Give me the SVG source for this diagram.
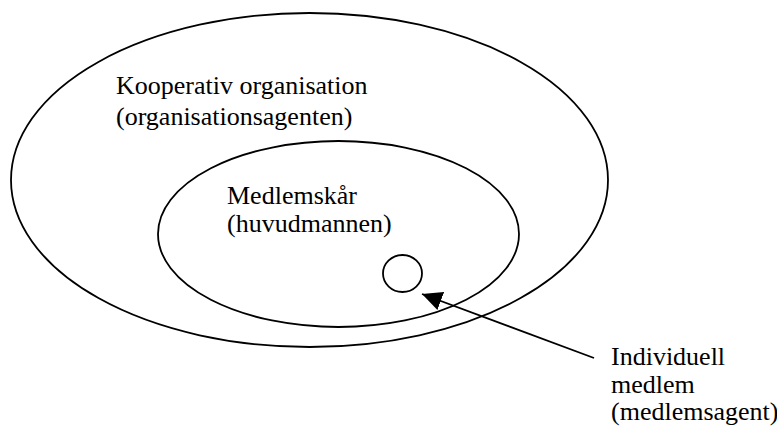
<svg xmlns="http://www.w3.org/2000/svg" width="777" height="427" viewBox="0 0 777 427">
<defs>
<style>
.shape{fill:none;stroke:#000;stroke-width:1.8}
.lbl{font-family:"Liberation Serif","Times New Roman",serif;font-size:26px;fill:#000}
</style>
<marker id="ah" viewBox="0 0 20 19" refX="20" refY="9.5" markerWidth="20" markerHeight="19" markerUnits="userSpaceOnUse" orient="auto">
<path d="M0,0 L20,9.5 L0,19 z" fill="#000"/>
</marker>
</defs>
<rect width="777" height="427" fill="#fff"/>
<g id="kooperativ">
<ellipse class="shape" cx="309.5" cy="180" rx="298.5" ry="167"/>
<text class="lbl" x="116" y="94">Kooperativ organisation</text>
<text class="lbl" x="116" y="125">(organisationsagenten)</text>
</g>
<g id="medlemskar">
<ellipse class="shape" cx="338.5" cy="234" rx="180.5" ry="93"/>
<text class="lbl" x="227" y="204">Medlemskår</text>
<text class="lbl" x="227" y="232">(huvudmannen)</text>
</g>
<g id="individ">
<ellipse class="shape" cx="402.5" cy="273.5" rx="19.5" ry="18.5"/>
</g>
<g id="individ-label">
<text class="lbl" x="611" y="365">Individuell</text>
<text class="lbl" x="611" y="393">medlem</text>
<text class="lbl" x="611" y="420">(medlemsagent)</text>
</g>
<g id="connectors">
<line class="shape" x1="594" y1="358" x2="422" y2="294" marker-end="url(#ah)"/>
</g>
</svg>
